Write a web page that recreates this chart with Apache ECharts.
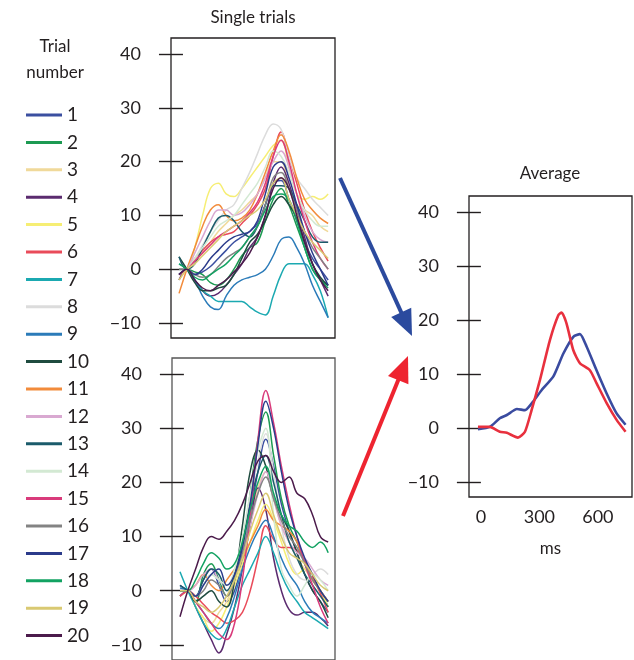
<!DOCTYPE html>
<html><head><meta charset="utf-8">
<script src="https://cdn.jsdelivr.net/npm/echarts@6/dist/echarts.min.js"></script>
<style>html,body{margin:0;padding:0;background:#fff}#c{width:634px;height:660px}</style>
</head><body><div id="c"></div>
<script>
// ---- data ----
const trialNames = ['1','2','3','4','5','6','7','8','9','10','11','12','13','14','15','16','17','18','19','20'];
const trialColors = ['#3b4fa0','#1c9a52','#f0d99a','#5b2b6f','#f6ee74','#e94b5a','#1ba9b1','#dcdcdc','#2b7bb9','#1f4b3f','#f28b3b','#d9a9d1','#1b5b6b','#d3e9d3','#d93b7b','#838383','#2b3b8b','#12a262','#d9c972','#4b1b4b'];
const times = [-20,20,60,100,140,180,220,260,300,340,380,420,460,500,540,580,620,660,700,740];

// top panel (condition A)
const topT1  = [0,0,-1,-0.5,0.5,2,3.5,5,6,7,8.5,12,16,16.5,13,9,5,2,0,-2];
const topT2  = [0,0,-0.5,-1,-2.5,-3,-2,0,2.5,4,5,9,13,15,12,8,4,0,-2,-3];
const topT3  = [-2,0,1.5,3,5,7,8.5,10,11,12.5,14,17,20,20,15,12,11,10,8,7];
const topT4  = [-2,0,-2,-4,-5,-4.5,-3,-1,1,4,6,10,16,19,16,11,6,1,-2,-5];
const topT5  = [-1,0,4,10,15,16,14,13.5,15,17,19,21,23,24,19,14,13,13.5,13,14];
const topT6  = [-1,0,2,3.5,5,6,6.5,7,8.5,10,12,15,21,25.5,21,16,11,7,4,1.5];
const topT7  = [1,0,-2,-4,-5,-6,-6,-6,-6,-7,-8,-8.5,-5,-1,1,1,1,-1,-4,-9];
const topT8  = [0,0,2,4.5,7,9,11,12,15,18,21.5,25,27,26,21,17,15,13,11.5,10];
const topT9  = [-1,0,-2,-5,-7,-7.5,-5,-3,-2,-1.5,-1,0,2.5,5.5,6,4,1,-3,-6,-9];
const topT10 = [2.3,0,-2.5,-4,-4,-3.5,-3,-1,2,5,6.5,9,12,13.5,12,9.5,5,1,-1.5,-3];
const topT11 = [-4.5,0,4,8,11,12,10,9,9.5,11,14,18,22,25,22,17,13,11,9.5,8.5];
const topT12 = [-1,0,3,6,9,11,11,10,10.5,12,14,17,20,22,19,14,10,7,5.5,5];
const topT13 = [2.3,0,1,4,7,9.5,10,9,7,6,8,12,15.5,15.5,15,12,9,6,5,5];
const topT14 = [-1,0,2,4,6,8,9,10,12,14,16,19,22,21,18,14,11,9,8,8];
const topT15 = [-1,0,1.5,3,4.5,6,7,8,9,10.5,12.5,16,21,24,20,14,9,5,2,0];
const topT16 = [0,0,-1,-1.5,-1,0.5,2,3,4,6,8,12,17,18,15,11,7,4,2,0];
const topT17 = [-1,0,-1,0,2,3.5,5,6,6.5,7,9,14,19,20,17,12,7,3,0,-3];
const topT18 = [1,0,-1.5,-2,-1,0,1,2.5,4,6,8,11,13.5,14,13,9,4,0,-2,-3.5];
const topT19 = [-2,0,1,2.5,4,5.5,7,8,9,10,11,13,16,17,13,10,7,5,3.5,2];
const topT20 = [-1,0,-2,-3.5,-4,-3,-2,-0.5,1,3,6,10,15,17,15,10,5,1,-2,-4];

// bottom panel (condition B)
const botT1  = [1,0,-1,2,4,1,-2,0,6,14,22,28,23,16,11,7,3,0,-2,-4];
const botT2  = [0,0,-2,3,5,2,-1,2,8,18,28,33,25,17,12,9,5,2,0,-3];
const botT3  = [-1,0,-3,-5,-6,-4,-2,2,7,13,19,22,17,12,9,6,4,2,0,-2];
const botT4  = [0,0,-3,-6,-9,-11.5,-8,-3,4,12,19,15,6,0,-3.5,-4.5,-4,-4,-5,-6.5];
const botT5  = [0,0,-3,-5,-7.5,-6,-3,1,5,9,13,16,13,9,5,3,4,2,0,-3];
const botT6  = [0,0,-1,-2.5,-4,-5,-6,-5.5,-4,0,6,12,9.5,8,8,7.5,5.5,2.5,-0.5,-4];
const botT7  = [3.5,0,-3,-6,-8,-9,-7,-3,1,4,7,10,7,3,0,-2,-4,-5,-6,-7];
const botT8  = [0,0,-1,1,3,2,0,3,9,17,24,29,22,12,6,3,2,3,4,3];
const botT9  = [0.5,0,-2,-4,-6,-7,-5,-1,4,8,11,13,10,6,3,1,-2,-4,-5,-6];
const botT10 = [-1,0,-2,-1,0,-2,-3,2,12,22,26,23,17,14,11,7,3,0,-2,-5];
const botT11 = [-1,0,1,3,1,0,2,4,6,9,12,15,13,12,11,9,5,2,0,-2];
const botT12 = [0,0,1,3,4,2,1,3,7,12,18,22,17,12,9,7,6,4,2,1];
const botT13 = [1,0,-1,2,4,3,0,3,9,16,22,25,20,14,9,6,3,1,-1,-3];
const botT14 = [0,0,-1,1,3,2,1,4,10,18,26,30,14,4,1,-1,1,3,2,0];
const botT15 = [-1,0,-2,-4,-6,-8,-9,-6,2,14,28,37,31,23,16,10,5,1,-3,-6];
const botT16 = [0,0,-1,0,2,1,-1,2,7,13,18,21,17,13,10,8,5,2,0,-2];
const botT17 = [0,0,-1,1,3,4,1,3,8,16,27,35,30,22,15,10,6,3,0,-2];
const botT18 = [0,0,2,5,7,6,4,5,9,15,20,23,18,14,12,11,9,8,9,7];
const botT19 = [0,0,-2,-3,-4,-3,-1,2,6,11,15,18,14,10,7,6,5,3,1,0];
const botT20 = [-4.8,0,4,8,10,9.5,11,13,16,20,24,25,22,20,21,18,17,14,10,9];

// averages
const avgATimes = [-15,46,97,133,185,226,268,311,371,423,474,508,542,593,645,696,742];
const avgAVals  = [-0.25,0.2,1.8,2.4,3.5,3.3,4.9,7.0,9.5,13.8,16.9,17.4,15.1,10.7,6.4,2.7,0.6];
const avgBTimes = [-15,46,97,133,190,226,260,303,354,397,414,439,474,508,559,593,645,696,742];
const avgBVals  = [0.2,0.2,-0.7,-0.9,-1.8,-0.7,3.3,8.9,16.3,20.9,21.4,19.4,14.4,12,10.7,8.3,4.6,1.5,-0.7];

const yTicks = [-10,0,10,20,30,40];
const xTicks = [0,300,600];

const topTrials = [topT1,topT2,topT3,topT4,topT5,topT6,topT7,topT8,topT9,topT10,topT11,topT12,topT13,topT14,topT15,topT16,topT17,topT18,topT19,topT20];
const botTrials = [botT1,botT2,botT3,botT4,botT5,botT6,botT7,botT8,botT9,botT10,botT11,botT12,botT13,botT14,botT15,botT16,botT17,botT18,botT19,botT20];

// ---- chart ----
const FONT = 'Lato';
const TXT = '#231f20';
const chart = echarts.init(document.getElementById('c'), null, {renderer:'canvas'});
const pair = (xs, ys) => xs.map((x,i)=>[x, ys[i]]);

function yAx(gi){
  return {type:'value', gridIndex:gi, min:-12.8, max:43,
    axisLine:{show:false}, splitLine:{show:false},
    axisTick:{show:true, customValues:yTicks, length:24, lineStyle:{color:TXT, width:1.4}},
    axisLabel:{customValues:yTicks, margin:30, color:TXT, fontFamily:FONT, fontSize:18,
      formatter:v=> v<0 ? '\u2212'+Math.abs(v) : String(v)}};
}
function xAx(gi, showLabels){
  return {type:'value', gridIndex:gi, min:-61, max:775,
    axisLine:{show:false}, splitLine:{show:false}, axisTick:{show:false},
    axisLabel:{show:showLabels, customValues:xTicks, margin:11, color:TXT, fontFamily:FONT, fontSize:18},
    name: showLabels ? 'ms' : '', nameLocation:'middle', nameGap:43,
    nameTextStyle:{color:TXT, fontFamily:FONT, fontSize:17}};
}

const series = [];
trialNames.forEach((n,i)=>{
  series.push({type:'line', name:n, xAxisIndex:0, yAxisIndex:0, data:pair(times, topTrials[i]),
    smooth:0.4, showSymbol:false, lineStyle:{width:1.5, color:trialColors[i]}, itemStyle:{color:trialColors[i]}, z:2, silent:true});
});
trialNames.forEach((n,i)=>{
  series.push({type:'line', name:n, xAxisIndex:1, yAxisIndex:1, data:pair(times, botTrials[i]),
    smooth:0.4, showSymbol:false, lineStyle:{width:1.5, color:trialColors[i]}, itemStyle:{color:trialColors[i]}, z:2, silent:true});
});
series.push({type:'line', name:'avgA', xAxisIndex:2, yAxisIndex:2, data:pair(avgATimes, avgAVals),
  smooth:0.2, showSymbol:false, lineStyle:{width:2.6, color:'#3a4ba0'}, z:3});
series.push({type:'line', name:'avgB', xAxisIndex:2, yAxisIndex:2, data:pair(avgBTimes, avgBVals),
  smooth:0.2, showSymbol:false, lineStyle:{width:2.6, color:'#e8303e'}, z:3});

function arrow(x1,y1,x2,y2,color){
  const dx=x2-x1, dy=y2-y1, L=Math.hypot(dx,dy), ux=dx/L, uy=dy/L;
  const hl=26, hw=11;
  const bx=x2-ux*hl, by=y2-uy*hl;
  return [
    {type:'line', shape:{x1:x1,y1:y1,x2:bx+ux*2,y2:by+uy*2}, style:{stroke:color, lineWidth:4}},
    {type:'polygon', shape:{points:[[x2,y2],[bx-uy*hw,by+ux*hw],[bx+uy*hw,by-ux*hw]]}, style:{fill:color}}
  ];
}

const option = {
  animation:false,
  backgroundColor:'#fff',
  textStyle:{fontFamily:FONT},
  grid:[
    {left:171, top:38, width:164, height:300, show:true, borderColor:'#231f20', borderWidth:1.3, backgroundColor:'transparent'},
    {left:172, top:358, width:163, height:304, show:true, borderColor:'#555', borderWidth:1.3, backgroundColor:'transparent'},
    {left:469, top:196, width:163, height:301, show:true, borderColor:'#231f20', borderWidth:1.3, backgroundColor:'transparent'}
  ],
  xAxis:[xAx(0,false), xAx(1,false), xAx(2,true)],
  yAxis:[yAx(0), yAx(1), yAx(2)],
  legend:{data:trialNames, orient:'vertical', left:21, top:100, itemWidth:36, itemHeight:3, itemGap:7.4,
    icon:'rect', selectedMode:false,
    textStyle:{color:TXT, fontFamily:FONT, fontSize:19, lineHeight:20, padding:[0,0,0,0]}},
  graphic:[
    {type:'text', x:253, y:9, style:{text:'Single trials', fill:TXT, font:'17px Lato', textAlign:'center'}},
    {type:'text', x:550, y:165, style:{text:'Average', fill:TXT, font:'17px Lato', textAlign:'center'}},
    {type:'text', x:55, y:38, style:{text:'Trial', fill:TXT, font:'17px Lato', textAlign:'center'}},
    {type:'text', x:55, y:64, style:{text:'number', fill:TXT, font:'17px Lato', textAlign:'center'}},
    ...arrow(340,178,412,336,'#2b4a9e'),
    ...arrow(343,516,408,356,'#ee2430')
  ],
  series:series
};
chart.setOption(option);
</script></body></html>
